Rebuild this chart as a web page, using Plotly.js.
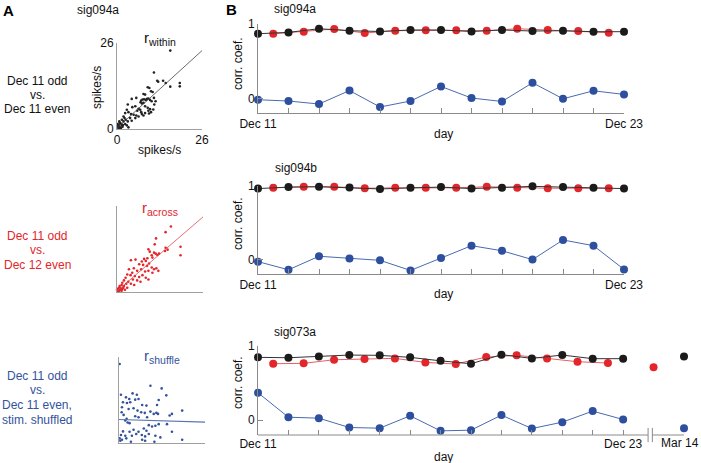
<!DOCTYPE html>
<html>
<head>
<meta charset="utf-8">
<script src="https://cdn.plot.ly/plotly-3.0.1.min.js"></script>
<style>
  html, body { margin: 0; padding: 0; background: #fff; }
  #fig { width: 701px; height: 463px; }
</style>
</head>
<body>
<div id="fig"></div>
<script>
// ---- panel B: day offsets from Dec 11 ----
var days = [0, 1, 2, 3, 4, 5, 6, 7, 8, 9, 10, 11, 12];
var halfDays = [0.5, 1.5, 2.5, 3.5, 4.5, 5.5, 6.5, 7.5, 8.5, 9.5, 10.5, 11.5];
var dayTickText = ['Dec 11', '', '', '', '', '', '', '', '', '', '', '', 'Dec 23'];

// sig094a
var withinA = [0.87, 0.888, 0.937, 0.91, 0.90, 0.92, 0.92, 0.90, 0.92, 0.906, 0.91, 0.897, 0.897];
var acrossA = [0.87, 0.897, 0.933, 0.88, 0.91, 0.915, 0.915, 0.91, 0.937, 0.92, 0.906, 0.884];
var shuffleA = [-0.013, -0.03, -0.07, 0.11, -0.11, -0.03, 0.165, 0.01, -0.036, 0.214, 0.0, 0.107, 0.058];

// sig094b
var withinB = [0.965, 0.985, 0.99, 0.98, 0.96, 0.975, 0.985, 0.965, 0.975, 0.995, 0.985, 0.975, 0.965];
var acrossB = [0.975, 0.99, 0.99, 0.97, 0.975, 0.975, 0.975, 0.99, 0.975, 0.97, 0.97, 0.97];
var shuffleB = [-0.023, -0.133, 0.05, 0.018, -0.005, -0.142, 0.028, 0.193, 0.124, 0.005, 0.27, 0.193, -0.128];

// sig073a (plus the later Mar 14 session)
var withinC = [0.847, 0.842, 0.86, 0.878, 0.874, 0.847, 0.80, 0.761, 0.883, 0.833, 0.878, 0.829, 0.829];
var acrossC = [0.761, 0.766, 0.815, 0.824, 0.833, 0.779, 0.757, 0.851, 0.874, 0.833, 0.788, 0.77];
var shuffleC = [0.369, 0.04, 0.027, -0.099, -0.108, 0.059, -0.144, -0.135, 0.068, -0.113, -0.027, 0.122, 0.009];
var marDay = 14, marAcrossDay = 13;
var marWithin = 0.86, marAcross = 0.712, marShuffle = -0.108;

// ---- panel A: firing rates (spikes/s), odd vs even trials ----
var withinX = [16.3, 11.3, 12.3, 12.6, 14.1, 14.9, 19.2, 19.2, 16.3, 9.4, 9.9, 10.4, 10.9, 8.1, 8.6, 4.5, 5.9, 7.4, 7.8, 8.3,
  8.8, 9.2, 9.6, 10.1, 10.6, 11.3, 11.8, 11.4, 7.2, 7.6, 8.1, 3.3, 5.6, 4.7, 8.6, 9.4, 10.1, 6.6, 7.1, 6.2,
  7.4, 9.6, 9.8, 10.4, 11.1, 3.0, 3.5, 2.5, 4.3, 5.1, 5.9, 6.6, 5.6, 7.6, 8.1, 8.6, 2.0, 2.3, 1.5, 2.7,
  4.0, 4.5, 3.3, 0.7, 1.0, 1.3, 0.5, 1.5, 2.0, 0.3, 0.9, 1.7, 2.5, 3.0, 0.5, 0.1, 1.1, 3.5, 0.2, 0.6, 1.2, 0.8, 1.8];
var withinY = [23.7, 17.1, 14.6, 14.3, 14.6, 13.9, 13.9, 12.9, 12.8, 12.6, 12.4, 11.4, 11.2, 10.6, 10.4, 9.1, 9.4, 8.6, 8.9, 9.0,
  8.8, 9.1, 9.2, 8.8, 8.4, 9.4, 8.4, 7.4, 8.1, 7.7, 7.9, 7.4, 6.9, 6.6, 6.9, 6.4, 6.0, 6.1, 5.8, 5.5,
  5.1, 5.5, 4.7, 5.1, 5.9, 5.8, 5.1, 4.8, 4.5, 4.3, 4.1, 3.8, 3.3, 4.5, 4.1, 4.8, 3.8, 3.3, 2.8, 2.8,
  3.3, 2.5, 2.3, 2.3, 1.8, 1.5, 1.3, 1.1, 2.3, 0.8, 0.5, 0.7, 1.5, 1.1, 0.3, 1.5, 0.1, 0.5, 0.5, 0.9, 0.3, 1.9, 1.2];
var withinFitX = [0, 26], withinFitY = [0.3, 23.7];

var acrossX = [16.3, 14.7, 11.8, 19.2, 19.2, 14.7, 14.5, 15.3, 11.4, 9.5, 9.9, 10.5, 11.2, 11.7, 12.2, 12.7, 10.7, 9.2, 8.7, 8.2,
  7.5, 5.6, 4.2, 6.7, 7.9, 9.1, 9.7, 10.5, 11.2, 11.9, 12.5, 10.7, 9.5, 8.5, 7.3, 6.1, 5.1, 4.6, 3.6, 3.1,
  4.1, 5.4, 6.7, 7.7, 8.7, 9.5, 6.1, 7.1, 4.8, 2.6, 2.1, 3.4, 4.2, 5.2, 2.8, 1.6, 1.4, 0.8, 2.1, 0.6,
  1.1, 0.4, 0.8, 1.6, 0.2, 1.4, 2.4, 3.1, 0.0, 1.9, 0.5, 1.0, 0.3];
var acrossY = [19.8, 18.1, 16.2, 13.7, 11.1, 13.4, 12.4, 12.8, 14.4, 12.9, 12.2, 11.1, 11.9, 11.6, 11.2, 11.6, 10.4, 10.2, 9.4, 10.0,
  9.2, 9.8, 9.6, 8.4, 8.2, 7.9, 8.6, 7.4, 6.9, 7.2, 6.4, 5.8, 6.4, 6.2, 6.9, 6.4, 7.2, 5.8, 6.9, 5.3,
  5.1, 4.8, 4.5, 5.1, 4.3, 3.8, 3.5, 3.1, 3.8, 4.3, 3.5, 3.1, 2.5, 2.1, 2.5, 2.8, 2.1, 1.8, 1.8, 1.3,
  1.1, 0.8, 0.5, 0.9, 0.3, 0.4, 0.7, 1.3, 0.7, 1.3, 0.2, 0.6, 1.0];
var acrossFitX = [0, 26], acrossFitY = [0.3, 22.7];

var shuffleX = [0.2, 9.5, 12.9, 4.1, 5.4, 0.6, 14.3, 2.1, 3.1, 4.9, 5.9, 12.0, 1.2, 2.4, 3.4, 7.0, 8.3, 11.5, 0.9, 2.9,
  4.4, 5.6, 6.7, 7.8, 9.5, 10.5, 11.3, 11.8, 16.0, 19.1, 15.3, 0.8, 1.4, 4.9, 5.9, 8.5, 1.9, 2.6, 3.2, 2.3,
  9.0, 10.0, 11.0, 12.0, 14.5, 7.5, 8.3, 5.9, 5.2, 4.4, 3.2, 1.2, 0.6, 1.9, 3.9, 6.9, 7.9, 9.0, 11.0, 16.0,
  12.5, 0.2, 0.9, 2.2, 7.0, 7.9, 10.7, 19.1, 3.6, 0.4];
var shuffleY = [23.9, 17.3, 16.5, 15.0, 14.6, 14.6, 14.4, 13.8, 13.3, 13.1, 13.3, 13.0, 12.3, 12.1, 12.3, 11.5, 11.3, 11.5, 10.8, 10.3,
  10.5, 9.8, 9.3, 9.1, 9.5, 8.8, 9.1, 8.8, 8.8, 9.8, 8.3, 9.3, 8.5, 8.1, 7.8, 7.8, 6.8, 6.2, 6.0, 7.3,
  5.4, 5.0, 5.2, 5.7, 5.7, 4.4, 3.7, 3.4, 2.7, 4.0, 3.4, 3.5, 2.4, 2.2, 2.2, 2.4, 2.0, 2.7, 2.2, 3.4,
  1.7, 1.4, 1.0, 1.4, 1.0, 0.7, 0.4, 1.0, 0.4, 0.7];
var shuffleFitX = [0, 26], shuffleFitY = [7.1, 6.3];

// ---- styles ----
var BLACK = '#1b1b1b', RED = '#e2262b', BLUE = '#2d4f9e';
var AXIS = '#8a8a8a';
var FONT = 'Liberation Sans, Arial, Helvetica, sans-serif';
var W = 701, H = 463;
function px(x) { return x / W; }
function py(y) { return 1 - y / H; }

var data = [];
function addSeries(xa, ya, xs, ys, color, lineColor) {
  data.push({
    x: xs, y: ys, xaxis: xa, yaxis: ya, type: 'scatter', mode: 'lines+markers',
    line: {color: lineColor, width: 1}, marker: {color: color, size: 8},
    cliponaxis: false, showlegend: false, hoverinfo: 'skip'
  });
}
function addPoint(xa, ya, x, y, color) {
  data.push({
    x: [x], y: [y], xaxis: xa, yaxis: ya, type: 'scatter', mode: 'markers',
    marker: {color: color, size: 8}, cliponaxis: false, showlegend: false, hoverinfo: 'skip'
  });
}

addSeries('x', 'y', halfDays, acrossA, RED, '#e86060');
addSeries('x', 'y', days, withinA, BLACK, '#333333');
addSeries('x', 'y', days, shuffleA, BLUE, '#4a6ab0');

addSeries('x2', 'y2', halfDays, acrossB, RED, '#e86060');
addSeries('x2', 'y2', days, withinB, BLACK, '#333333');
addSeries('x2', 'y2', days, shuffleB, BLUE, '#4a6ab0');

addSeries('x3', 'y3', halfDays, acrossC, RED, '#e86060');
addSeries('x3', 'y3', days, withinC, BLACK, '#333333');
addSeries('x3', 'y3', days, shuffleC, BLUE, '#4a6ab0');
addPoint('x3', 'y3', marAcrossDay, marAcross, RED);
addPoint('x3', 'y3', marDay, marWithin, BLACK);
addPoint('x3', 'y3', marDay, marShuffle, BLUE);

function addScatter(xa, ya, xs, ys, color) {
  data.push({
    x: xs, y: ys, xaxis: xa, yaxis: ya, type: 'scatter', mode: 'markers',
    marker: {color: color, size: 2.6}, showlegend: false, hoverinfo: 'skip', cliponaxis: false
  });
}
function addFit(xa, ya, xs, ys, color, w) {
  data.push({
    x: xs, y: ys, xaxis: xa, yaxis: ya, type: 'scatter', mode: 'lines',
    line: {color: color, width: w}, showlegend: false, hoverinfo: 'skip', cliponaxis: false
  });
}
addScatter('x4', 'y4', withinX, withinY, '#222222');
addFit('x4', 'y4', withinFitX, withinFitY, '#444444', 0.8);
addScatter('x5', 'y5', acrossX, acrossY, RED);
addFit('x5', 'y5', acrossFitX, acrossFitY, '#e4474b', 0.8);
addScatter('x6', 'y6', shuffleX, shuffleY, '#33539c');
addFit('x6', 'y6', shuffleFitX, shuffleFitY, '#5a75b0', 1.2);

// ---- axes ----
function dayAxis(anchor, domain, range, tickvals, ticktext) {
  return {
    anchor: anchor, domain: domain, range: range, showline: true, linecolor: AXIS, linewidth: 1,
    ticks: 'inside', ticklen: 5, tickcolor: AXIS, tickwidth: 1,
    tickvals: tickvals, ticktext: ticktext, tickfont: {size: 12, color: '#111'},
    showgrid: false, zeroline: false, fixedrange: true
  };
}
function corrAxis(anchor, domain, range) {
  return {
    anchor: anchor, domain: domain, range: range, showline: true, linecolor: AXIS, linewidth: 1,
    ticks: 'inside', ticklen: 5, tickcolor: AXIS, tickvals: [0, 1], ticktext: ['0', '1'],
    tickfont: {size: 12, color: '#111'}, showgrid: false, zeroline: false, fixedrange: true
  };
}
function rateAxis(anchor, domain, labels) {
  return {
    anchor: anchor, domain: domain, range: [0, 26], showline: true, linecolor: '#a0a0a0', linewidth: 1,
    ticks: '', showticklabels: labels, tickvals: [0, 26], ticktext: ['0', '26'],
    tickfont: {size: 12, color: '#111'}, showgrid: false, zeroline: false, fixedrange: true
  };
}

// Mar 14 gets a tick mark; its label is placed separately so it stays inside the page
var marchTicks = days.concat([marDay]);
var marchText = dayTickText.concat(['']);

var layout = {
  width: W, height: H,
  margin: {l: 0, r: 0, t: 0, b: 0},
  paper_bgcolor: '#fff', plot_bgcolor: 'rgba(0,0,0,0)',
  font: {family: FONT, size: 12, color: '#111'},
  showlegend: false,
  xaxis: dayAxis('y', [px(258), px(624)], [0, 12], days, dayTickText),
  yaxis: corrAxis('x', [py(113), py(24)], [-0.19, 1]),
  xaxis2: dayAxis('y2', [px(258), px(624)], [0, 12], days, dayTickText),
  yaxis2: corrAxis('x2', [py(274), py(186)], [-0.19, 1]),
  xaxis3: Object.assign(dayAxis('y3', [px(258), px(684)], [0, 14], marchTicks, marchText), {showline: false}),
  yaxis3: corrAxis('x3', [py(435), py(346)], [-0.2, 1]),
  xaxis4: rateAxis('y4', [px(117), px(202)], true),
  yaxis4: rateAxis('x4', [py(129), py(43)], true),
  xaxis5: rateAxis('y5', [px(117), px(203)], false),
  yaxis5: rateAxis('x5', [py(292), py(206)], false),
  xaxis6: rateAxis('y6', [px(119), px(205)], false),
  yaxis6: rateAxis('x6', [py(443), py(357)], false),
  shapes: [
    // bottom axis with a break between Dec 23 and Mar 14
    {type: 'line', xref: 'x3', yref: 'y3 domain', x0: 0, x1: 12.82, y0: 0, y1: 0, line: {color: AXIS, width: 1}},
    {type: 'line', xref: 'x3', yref: 'y3 domain', x0: 12.96, x1: 14, y0: 0, y1: 0, line: {color: AXIS, width: 1}},
    {type: 'line', xref: 'x3', yref: 'y3 domain', x0: 12.82, x1: 12.82, y0: -0.08, y1: 0.08, line: {color: AXIS, width: 1}},
    {type: 'line', xref: 'x3', yref: 'y3 domain', x0: 12.96, x1: 12.96, y0: -0.08, y1: 0.08, line: {color: AXIS, width: 1}}
  ],
  annotations: []
};

function note(text, x, y, opts) {
  var a = Object.assign({
    text: text, xref: 'paper', yref: 'paper', x: px(x), y: py(y),
    xanchor: 'center', yanchor: 'middle', showarrow: false,
    font: {family: FONT, size: 12, color: '#111'}
  }, opts || {});
  layout.annotations.push(a);
}

// panel letters and titles
note('<b>A</b>', 8, 10, {font: {family: FONT, size: 15, color: '#000'}});
note('<b>B</b>', 231, 9, {font: {family: FONT, size: 15, color: '#000'}});
note('sig094a', 98, 10);
note('sig094a', 272, 9, {xanchor: 'left'});
note('sig094b', 273, 168, {xanchor: 'left'});
note('sig073a', 272, 332, {xanchor: 'left'});

// panel B axis titles
note('corr. coef.', 238, 64, {textangle: -90});
note('corr. coef.', 238, 224, {textangle: -90});
note('corr. coef.', 238, 383, {textangle: -90});
note('day', 443, 134);
note('day', 443, 294);
note('day', 443, 457);
note('Mar 14', 700, 443, {xanchor: 'right', borderpad: 0});

// panel A labels
note('spikes/s', 97, 88, {textangle: -90});
note('spikes/s', 159, 150);
note('r<sub>within</sub>', 160, 38, {font: {family: FONT, size: 15, color: '#111'}});
note('r<sub>across</sub>', 160, 208, {font: {family: FONT, size: 15, color: RED}});
note('r<sub>shuffle</sub>', 162, 356, {font: {family: FONT, size: 15, color: '#33539c'}});

note('Dec 11 odd', 37, 81);
note('vs.', 37, 95);
note('Dec 11 even', 37, 109);

var redText = {family: FONT, size: 12, color: RED};
note('Dec 11 odd', 37, 236, {font: redText});
note('vs.', 37, 250, {font: redText});
note('Dec 12 even', 37, 265, {font: redText});

var blueText = {family: FONT, size: 12, color: '#33539c'};
note('Dec 11 odd', 37, 376, {font: blueText});
note('vs.', 37, 390, {font: blueText});
note('Dec 11 even,', 37, 405, {font: blueText});
note('stim. shuffled', 37, 420, {font: blueText});

Plotly.newPlot('fig', data, layout, {staticPlot: true, displayModeBar: false});
</script>
</body>
</html>
